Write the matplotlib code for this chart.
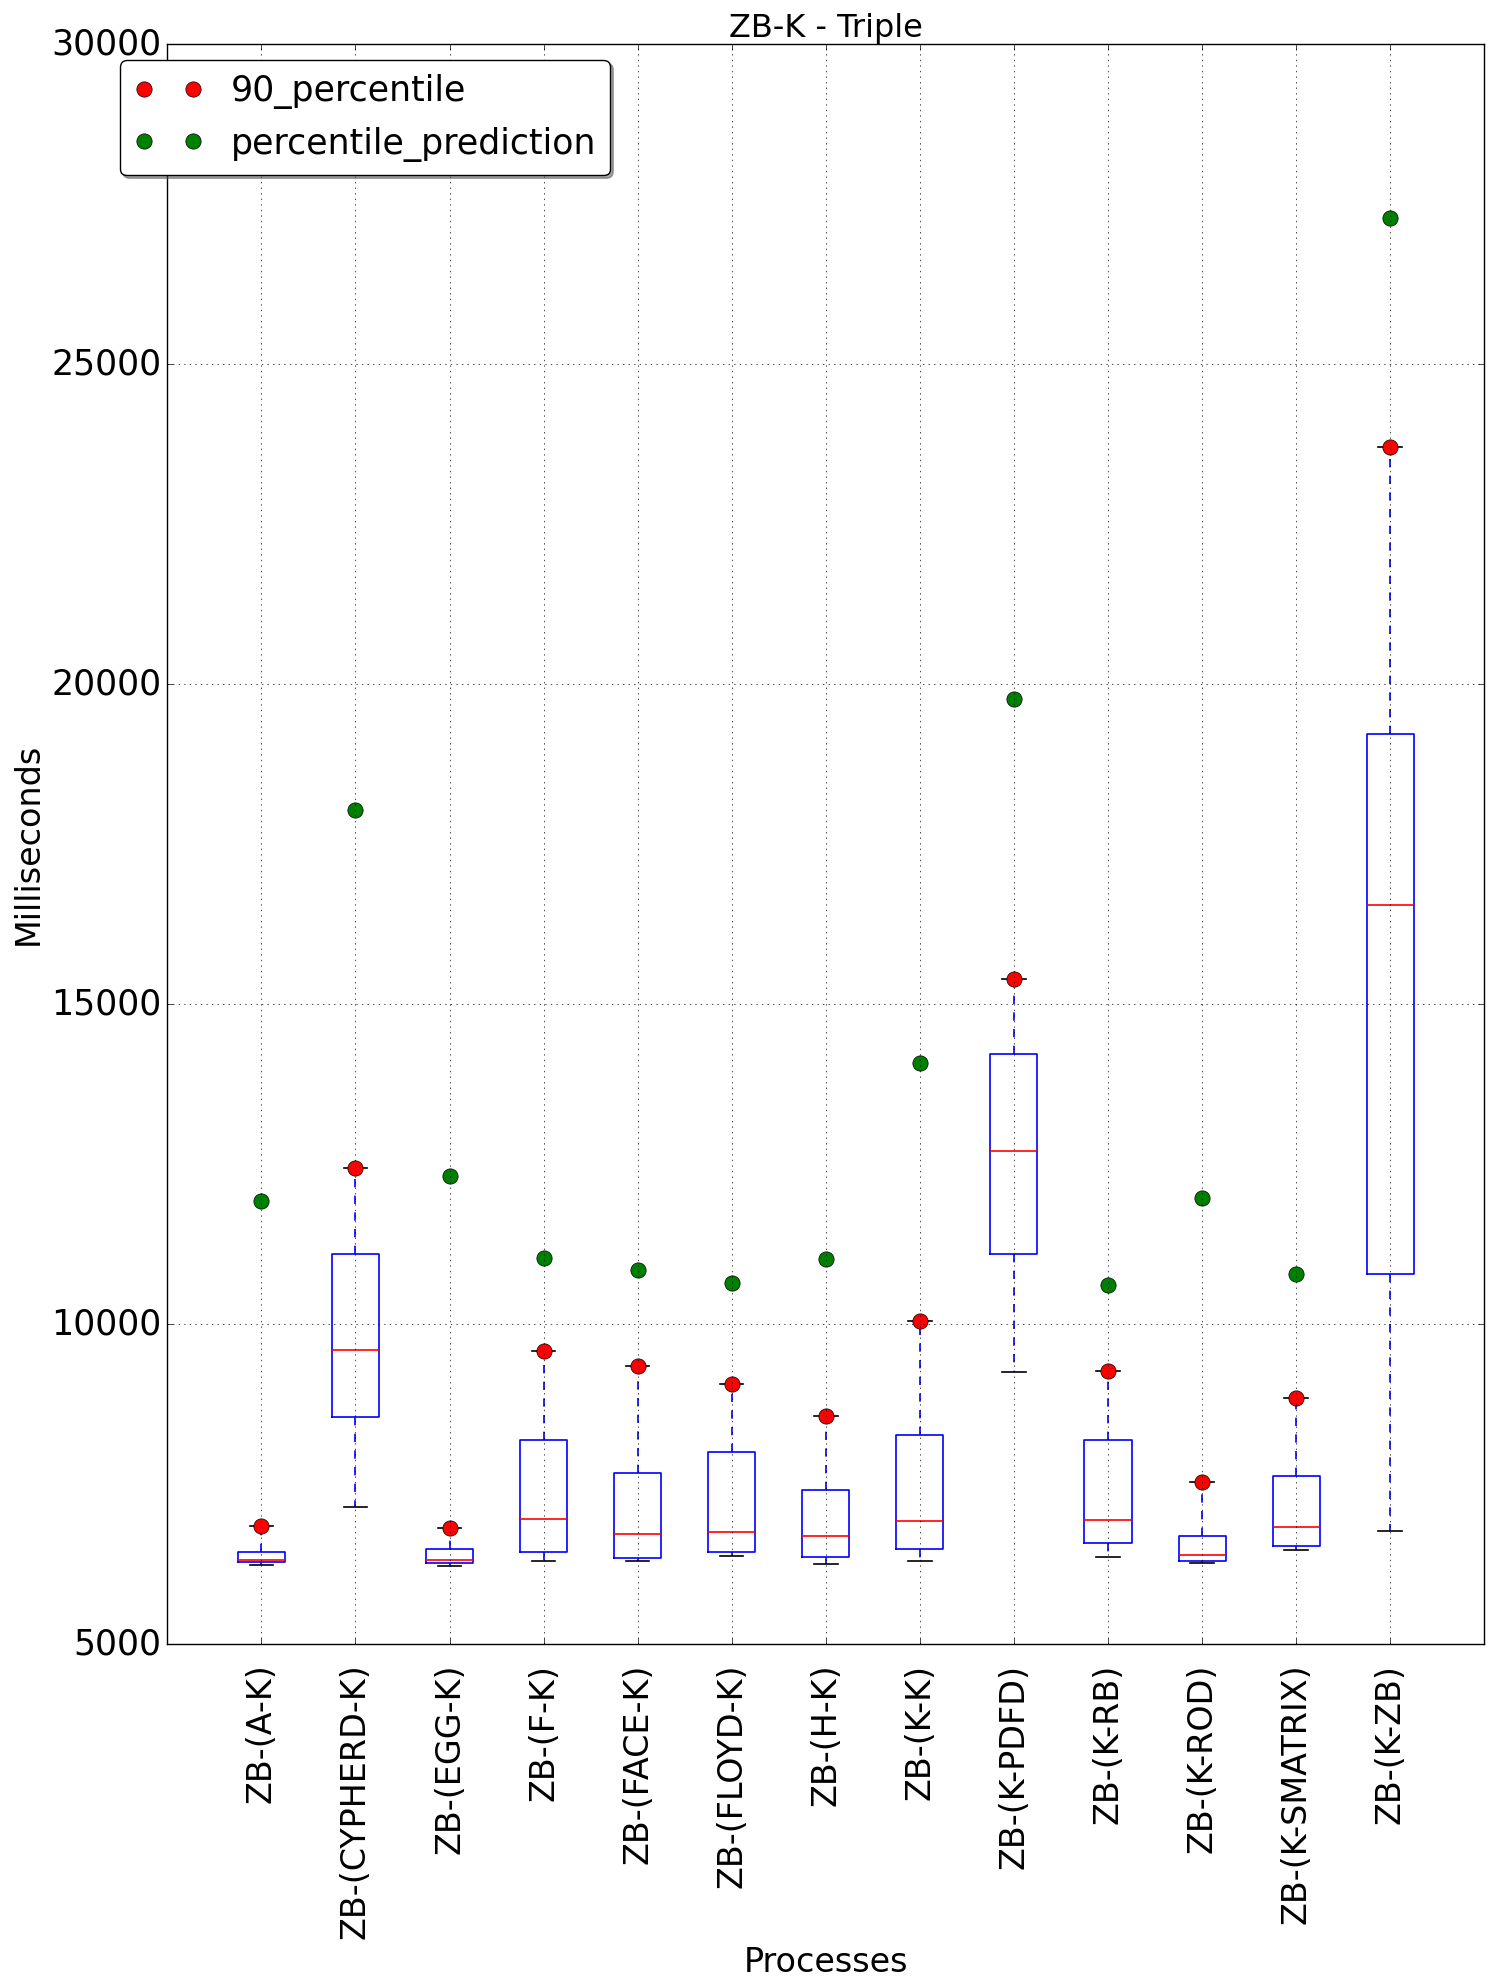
import matplotlib
matplotlib.use("Agg")
import matplotlib.pyplot as plt

plt.style.use("classic")
plt.rcParams["font.family"] = ["DejaVu Sans"]

labels = ["ZB-(A-K)", "ZB-(CYPHERD-K)", "ZB-(EGG-K)", "ZB-(F-K)", "ZB-(FACE-K)",
          "ZB-(FLOYD-K)", "ZB-(H-K)", "ZB-(K-K)", "ZB-(K-PDFD)", "ZB-(K-RB)",
          "ZB-(K-ROD)", "ZB-(K-SMATRIX)", "ZB-(K-ZB)"]
whislo = [6243, 7146, 6225, 6299, 6299, 6377, 6253, 6299, 9254, 6366, 6271, 6470, 6767]
q1 = [6288, 8551, 6271, 6438, 6349, 6438, 6366, 6488, 11093, 6583, 6299, 6533, 10791]
med = [6310, 9592, 6310, 6956, 6722, 6750, 6689, 6923, 12715, 6939, 6392, 6834, 16556]
q3 = [6438, 11093, 6488, 8188, 7676, 7999, 7407, 8266, 14219, 8188, 6689, 7626, 19228]
p90 = [6850, 12437, 6817, 9582, 9343, 9070, 8562, 10045, 15389, 9265, 7537, 8846, 23704]
pred = [11934, 18040, 12324, 11032, 10841, 10652, 11015, 14080, 19764, 10620, 11968, 10780, 27287]

positions = list(range(1, len(labels) + 1))

fig = plt.figure(figsize=(14.94, 19.88), dpi=100)
ax = fig.add_axes([0.112, 0.1729, 0.8815, 0.8048])

stats = [
    {"label": l, "whislo": lo, "q1": a, "med": m, "q3": b, "whishi": hi, "fliers": []}
    for l, lo, a, m, b, hi in zip(labels, whislo, q1, med, q3, p90)
]
ax.bxp(stats, positions=positions, widths=0.5, showfliers=False,
       boxprops=dict(color="b", linewidth=1.2),
       whiskerprops=dict(color="b", linestyle="--", linewidth=1.2),
       capprops=dict(color="k", linewidth=1.2),
       medianprops=dict(color="r", linewidth=1.2))

ax.plot(positions, p90, "o", color="r", markersize=11, label="90_percentile")
ax.plot(positions, pred, "o", color="g", markersize=11, label="percentile_prediction")

ax.set_xlim(0, 14)
ax.set_ylim(5000, 30000)
ax.set_yticks(range(5000, 30001, 5000))
ax.set_xticks(positions)
ax.set_xticklabels(labels, rotation=90, fontsize=24)
ax.tick_params(axis="x", pad=14)
ax.tick_params(axis="y", labelsize=25)
ax.grid(True)

ax.set_title("ZB-K - Triple", fontsize=23)
ax.set_xlabel("Processes", fontsize=24)
ax.set_ylabel("Milliseconds", fontsize=24)

ax.legend(loc="upper left", bbox_to_anchor=(-0.036, 0.99), borderaxespad=0,
          fancybox=True, shadow=True, numpoints=2, fontsize=25)

fig.savefig("out.png", dpi=100)
